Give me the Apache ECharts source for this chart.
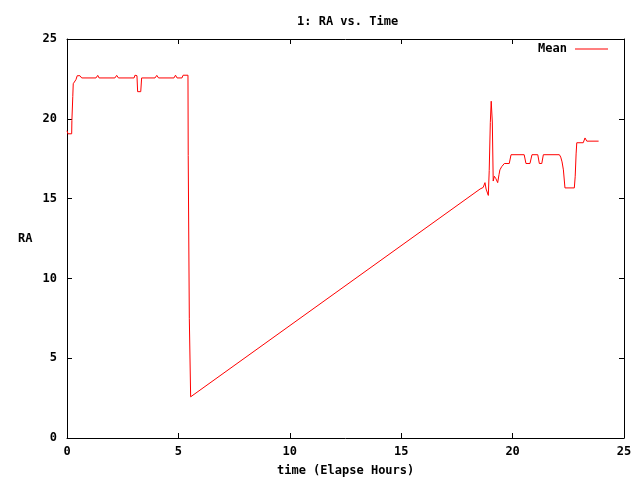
<!DOCTYPE html>
<html>
<head>
<meta charset="utf-8">
<script src="https://cdn.jsdelivr.net/npm/echarts@6/dist/echarts.min.js"></script>
<style>html,body{margin:0;padding:0;background:#fff}#c{width:640px;height:480px}</style>
</head>
<body>
<div id="c"></div>
<script>
var timeHours = [0.00,0.045,0.21,0.22,0.26,0.28,0.40,0.46,0.58,0.66,1.30,1.38,1.44,2.15,2.23,2.31,3.01,3.05,3.14,3.17,3.31,3.35,3.95,4.03,4.11,4.80,4.87,4.94,5.16,5.21,5.43,5.44,5.49,5.55,
18.54,18.68,18.76,18.81,18.91,18.95,19.00,19.04,19.09,19.13,19.18,19.25,19.33,19.39,19.43,19.51,19.63,19.85,19.93,20.52,20.60,20.78,20.87,21.13,21.20,21.31,21.38,22.10,22.16,22.22,22.28,22.35,22.77,22.81,22.85,22.88,23.17,23.25,23.33,23.86];
var raMean = [19.25,19.06,19.06,19.9,21.4,22.2,22.45,22.7,22.7,22.56,22.56,22.72,22.56,22.56,22.72,22.56,22.56,22.73,22.7,21.7,21.7,22.56,22.56,22.72,22.56,22.56,22.73,22.56,22.56,22.73,22.73,17.7,7.5,2.58,
15.6,15.7,16.0,15.6,15.2,16.75,19.77,21.1,19.8,16.1,16.4,16.25,16.0,16.5,16.8,17.0,17.2,17.2,17.75,17.75,17.2,17.2,17.75,17.75,17.2,17.2,17.75,17.75,17.6,17.3,16.8,15.67,15.67,16.4,17.8,18.5,18.5,18.8,18.6,18.6];
var xTicks = [0,5,10,15,20,25];
var yTicks = [0,5,10,15,20,25];

var FONT = 'DejaVu Sans Mono';
var pts = timeHours.map(function(t,i){return [t, raMean[i]];});
var chart = echarts.init(document.getElementById('c'), null, {renderer:'canvas'});
var axisCommon = {
  type:'value', min:0, max:25, interval:5,
  axisLine:{show:true, onZero:false, lineStyle:{color:'#000', width:1}},
  axisTick:{show:true, inside:true, length:5, lineStyle:{color:'#000'}},
  splitLine:{show:false}
};
chart.setOption({
  animation:false,
  backgroundColor:'#fff',
  title:{text:'1: RA vs. Time', left:292, top:11, textStyle:{fontFamily:FONT, fontSize:12, fontWeight:'bold', color:'#000'}},
  legend:{right:27, top:38, align:'right', itemWidth:33, itemHeight:1, itemGap:8,
    textStyle:{fontFamily:FONT, fontSize:12, fontWeight:'bold', color:'#000', padding:[0,3,0,0]},
    data:[{name:'Mean', icon:'rect'}]},
  grid:{left:67, right:16, top:39, bottom:42},
  xAxis:[
    Object.assign({}, axisCommon, {position:'bottom',
      axisLabel:{show:true, margin:8, fontFamily:FONT, fontSize:12, fontWeight:'bold', color:'#000',
        formatter:function(v){return xTicks.indexOf(v)>=0?String(v):'';}}}),
    Object.assign({}, axisCommon, {position:'top', axisLabel:{show:false}})
  ],
  yAxis:[
    Object.assign({}, axisCommon, {position:'left',
      axisLabel:{show:true, margin:10, fontFamily:FONT, fontSize:12, fontWeight:'bold', color:'#000',
        formatter:function(v){return yTicks.indexOf(v)>=0?String(v):'';}}}),
    Object.assign({}, axisCommon, {position:'right', axisLabel:{show:false}})
  ],
  graphic:[
    {type:'text', left:18, top:233, style:{text:'RA', fontFamily:FONT, fontSize:12, fontWeight:'bold', fill:'#000'}},
    {type:'text', left:277, top:465, style:{text:'time (Elapse Hours)', fontFamily:FONT, fontSize:12, fontWeight:'bold', fill:'#000'}}
  ],
  series:[{
    name:'Mean', type:'line', data:pts, showSymbol:false, symbol:'none',
    lineStyle:{color:'#ff0000', width:1}, itemStyle:{color:'#ff0000'}
  }]
});
</script>
</body>
</html>
